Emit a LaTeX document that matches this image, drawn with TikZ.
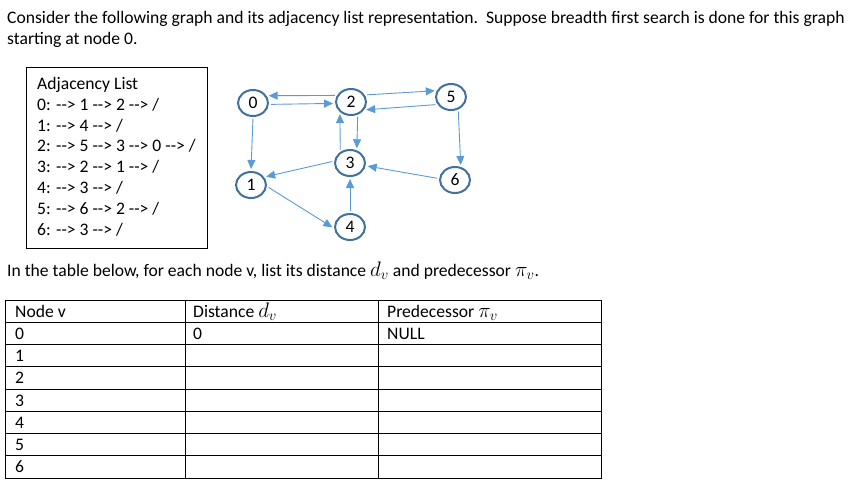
\documentclass[tikz,border=0pt]{standalone}
\usepackage{fix-cm}
\usepackage{fontspec}
\setmainfont{Carlito}
\usetikzlibrary{shapes.geometric,arrows.meta}
\definecolor{nodeblue}{HTML}{41719C}
\definecolor{edgeblue}{HTML}{5B9BD5}
\newcommand\arw{-\kern0pt-\kern0pt>}
\newcommand\mth[1]{{\fontsize{21}{21}\selectfont$#1$}}
\begin{document}
\begin{tikzpicture}[x=1pt,y=-1pt,
  every node/.style={font=\fontsize{17.6}{20.8}\selectfont, inner sep=0pt},
  txt/.style={anchor=base west},
  vert/.style={ellipse, draw=nodeblue, line width=2pt, fill=white, minimum width=30pt, minimum height=26pt},
  edge/.style={draw=edgeblue, line width=0.9pt, -{Triangle[length=9pt,width=8pt]}, shorten <=2pt, shorten >=2pt},
  grid/.style={draw=black, line width=1pt}]
\useasboundingbox (0,0) rectangle (850,485);
% header text
\node[txt] (h1) at (7,23) {Consider the following graph and its adjacency list representation.\ \ Suppose breadth first search is done for this graph};
\node[txt] (h2) at (7,44) {starting at node 0.};
% adjacency list box
\draw[grid] (26,67) rectangle (207,248);
\node[txt] (a0) at (37,89.5) {Adjacency List};
\node[txt] (a1) at (37,110.3) {0: \arw{} 1 \arw{} 2 \arw{} /};
\node[txt] (a2) at (37,131.1) {1: \arw{} 4 \arw{} /};
\node[txt] (a3) at (37,151.9) {2: \arw{} 5 \arw{} 3 \arw{} 0 \arw{} /};
\node[txt] (a4) at (37,172.7) {3: \arw{} 2 \arw{} 1 \arw{} /};
\node[txt] (a5) at (37,193.5) {4: \arw{} 3 \arw{} /};
\node[txt] (a6) at (37,214.3) {5: \arw{} 6 \arw{} 2 \arw{} /};
\node[txt] (a7) at (37,235.1) {6: \arw{} 3 \arw{} /};
% graph
\node[vert] (n0) at (253,103) {0};
\node[vert] (n2) at (351,102) {2};
\node[vert] (n5) at (451,97) {5};
\node[vert] (n3) at (350,163) {3};
\node[vert] (n1) at (251,185) {1};
\node[vert] (n6) at (455,180) {6};
\node[vert] (n4) at (350,227) {4};
\draw[edge] (n2.155) -- (n0.28);
\draw[edge] (n0.-5) -- (n2.185);
\draw[edge] (n2.27) -- (n5.156);
\draw[edge] (n5.209) -- (n2.-31);
\draw[edge] (n2.-62) -- (n3.62);
\draw[edge] (n3.131) -- (n2.-138);
\draw[edge] (n0.-90) -- (n1.90);
\draw[edge] (n3.173) -- (n1.31);
\draw[edge] (n1.-5) -- (n4.185);
\draw[edge] (n4.90) -- (n3.-90);
\draw[edge] (n5.-60) -- (n6.66);
\draw[edge] (n6.175) -- (n3.-10);
% second paragraph
\node[txt] (p) at (7,276) {In the table below, for each node v, list its distance \mth{d_v} and predecessor \mth{\pi_v}.};
% table
\draw[grid] (5,300) rectangle (601,478);
\foreach \yy in {322.25,344.5,366.75,389,411.25,433.5,455.75} \draw[grid] (5,\yy) -- (601,\yy);
\draw[grid] (185,300) -- (185,478);
\draw[grid] (378,300) -- (378,478);
\node[txt] (c1) at (15,317) {Node v};
\node[txt] (c2) at (193,317) {Distance \mth{d_v}};
\node[txt] (c3) at (387,317) {Predecessor \mth{\pi_v}};
\node[txt] (r0) at (15,339.25) {0};
\node[txt] (d0) at (193,339.25) {0};
\node[txt] (q0) at (387,339.25) {NULL};
\node[txt] (r1) at (15,361.5) {1};
\node[txt] (r2) at (15,383.75) {2};
\node[txt] (r3) at (15,406) {3};
\node[txt] (r4) at (15,428.25) {4};
\node[txt] (r5) at (15,450.5) {5};
\node[txt] (r6) at (15,472.75) {6};
\end{tikzpicture}
\end{document}
